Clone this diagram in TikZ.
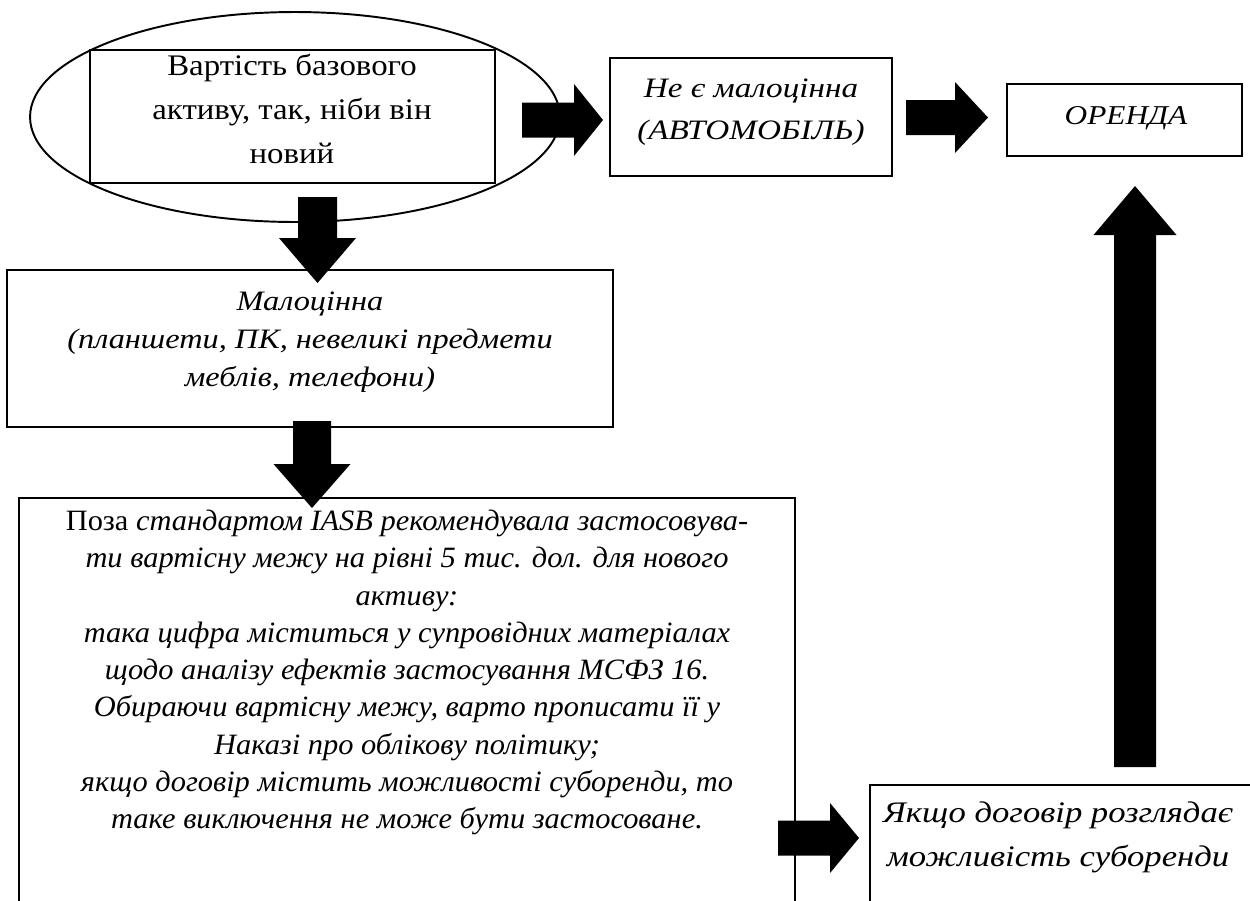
\documentclass[tikz,border=0pt]{standalone}
\usepackage{fontspec}
\setmainfont{Liberation Serif}
\newfontfamily\fellipse[FakeStretch=1.1]{Liberation Serif}
\newfontfamily\fnotcheap[FakeStretch=1.18]{Liberation Serif}
\newfontfamily\flease[FakeStretch=1.15]{Liberation Serif}
\newfontfamily\fcheap[FakeStretch=1.15]{Liberation Serif}
\newfontfamily\fbig[FakeStretch=1.03]{Liberation Serif}
\newfontfamily\fwide[FakeStretch=1.16]{Liberation Serif}
\usetikzlibrary{shapes.geometric}
\newcommand{\harr}[6]{\fill[black] (#2,{#1-#4}) -- (#6,{#1-#4}) -- (#6,{#1-#5}) -- (#3,#1) -- (#6,{#1+#5}) -- (#6,{#1+#4}) -- (#2,{#1+#4}) -- cycle;}
\newcommand{\varr}[6]{\fill[black] ({#1-#4},#2) -- ({#1-#4},#6) -- ({#1-#5},#6) -- (#1,#3) -- ({#1+#5},#6) -- ({#1+#4},#6) -- ({#1+#4},#2) -- cycle;}
\begin{document}
\begin{tikzpicture}[x=0.02cm,y=-0.02cm,
  box/.style={draw, line width=0.7pt, inner sep=0pt},
  txt/.style={align=center, inner sep=0pt}]
\useasboundingbox (0,0) rectangle (1250,900);
\clip (0,0) rectangle (1250,900);
% ellipse and its box
\node[ellipse, draw, line width=1.1pt, minimum width=10.6cm, minimum height=4.2cm, inner sep=0pt] (ell) at (295,117) {};
\node[box, minimum width=8.1cm, minimum height=2.66cm] (r1) at (292.5,116.5) {};
\node[txt, font=\fellipse\fontsize{17}{24.9}\selectfont] (t1) at (292,109) {Вартість базового\\активу, так, ніби він\\новий};
% top row boxes
\node[box, minimum width=5.64cm, minimum height=2.36cm] (r2) at (751,117) {};
\node[txt, font=\fnotcheap\itshape\fontsize{16}{23.8}\selectfont] (t2) at (751,112) {Не є малоцінна\\(АВТОМОБІЛЬ)};
\node[box, minimum width=4.7cm, minimum height=1.44cm] (r3) at (1124.5,120) {};
\node[txt, font=\flease\itshape\fontsize{15.5}{20}\selectfont] (t3) at (1126,118) {ОРЕНДА};
% Малоцінна
\node[box, minimum width=12.12cm, minimum height=3.14cm] (r4) at (310,348.5) {};
\node[txt, font=\fcheap\itshape\fontsize{16}{21.5}\selectfont] (t4) at (310,342) {Малоцінна\\(планшети, ПК, невеликі предмети\\меблів, телефони)};
% big open box
\draw[line width=0.7pt] (19,910) -- (19,498) -- (795,498) -- (795,910);
\coordinate (r5) at (407,498);
\node[txt, font=\fbig\fontsize{16.8}{21.2}\selectfont] (t5) at (407,672.5) {Поза \textit{стандартом IASB рекомендувала застосовува-}\\\textit{ти вартісну межу на рівні 5 тис. дол. для нового}\\\textit{активу:}\\\textit{така цифра міститься у супровідних матеріалах}\\\textit{щодо аналізу ефектів застосування МСФЗ 16.}\\\textit{Обираючи вартісну межу, варто прописати її у}\\\textit{Наказі про облікову політику;}\\\textit{якщо договір містить можливості суборенди, то}\\\textit{таке виключення не може бути застосоване.}};
% Якщо box (open)
\draw[line width=0.7pt] (870,910) -- (870,785) -- (1260,785);
\node[txt, font=\fwide\itshape\fontsize{17}{25}\selectfont] (t6) at (1058,837) {Якщо договір розглядає\\можливість суборенди};
% block arrows
\harr{120}{522}{603}{17.5}{36}{574}
\harr{117.5}{906}{988}{17.5}{35.5}{955}
\harr{838}{778}{859}{17.5}{35}{830}
\varr{317.5}{197}{283}{19.5}{38.5}{238}
\varr{312}{421}{508}{19}{38.5}{464}
\varr{1135}{767}{186}{21}{41.5}{235}
\end{tikzpicture}
\end{document}
